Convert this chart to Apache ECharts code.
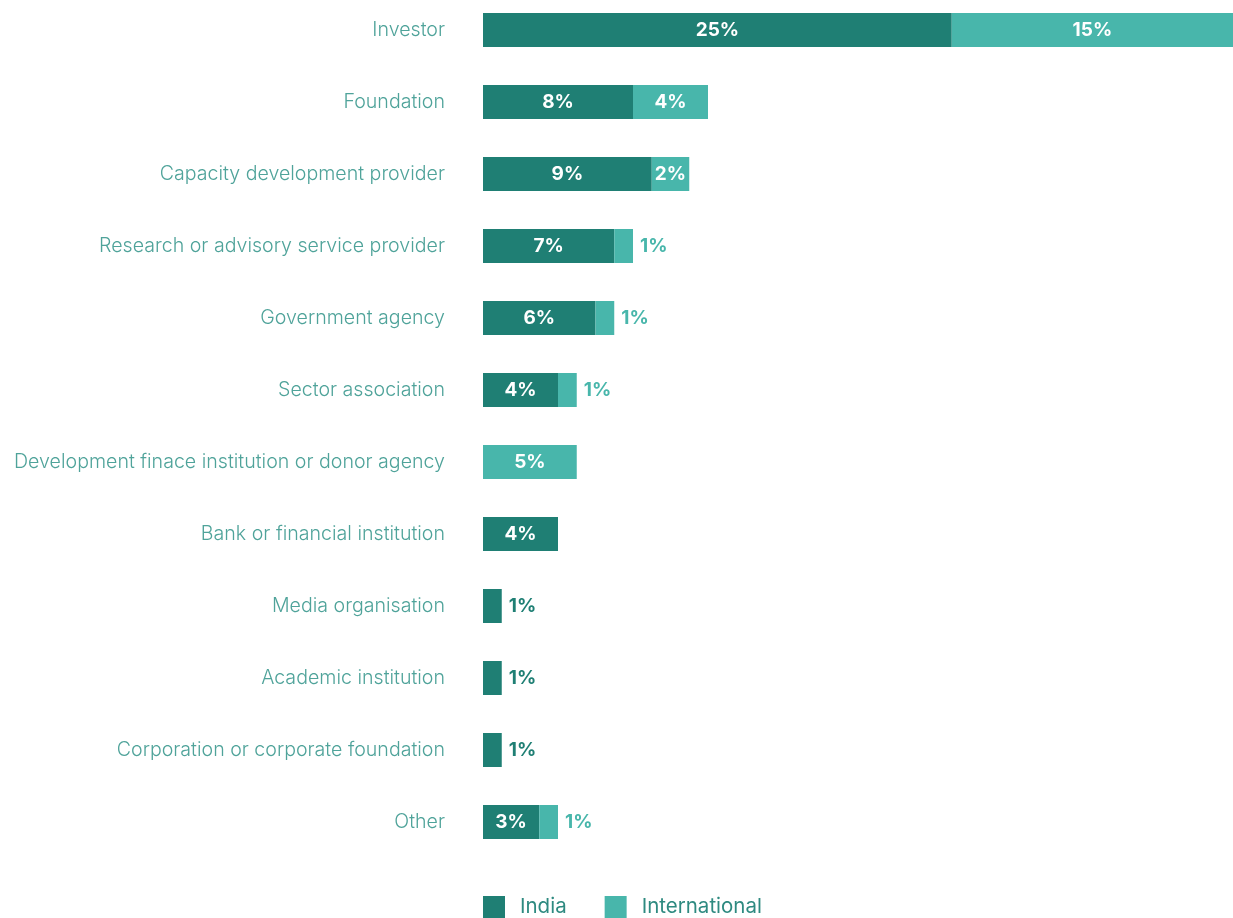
<!DOCTYPE html>
<html>
<head>
<meta charset="utf-8">
<script src="https://cdn.jsdelivr.net/npm/echarts@6/dist/echarts.min.js"></script>
<style>
  html, body { margin: 0; padding: 0; background: #ffffff; overflow: hidden; }
  #chart { position: absolute; left: 0; top: -6px; width: 1233px; height: 924px; }
</style>
</head>
<body>
<div id="chart"></div>
<script>
// Respondent organisation types, share of respondents (%)
const categories = [
  'Investor',
  'Foundation',
  'Capacity development provider',
  'Research or advisory service provider',
  'Government agency',
  'Sector association',
  'Development finace institution or donor agency',
  'Bank or financial institution',
  'Media organisation',
  'Academic institution',
  'Corporation or corporate foundation',
  'Other'
];
const india =         [25, 8, 9, 7, 6, 4, null, 4, 1, 1, 1, 3];
const international = [15, 4, 2, 1, 1, 1, 5, null, null, null, null, 1];

const DARK = '#1f7f74';
const LIGHT = '#48b6ab';
const FONT = 'Inter, Roboto, sans-serif';

// Small segments get their label outside, to the right, in the segment colour
function toItems(values, color) {
  return values.map(v => {
    if (v == null) return null;
    const small = v <= 1;
    return {
      value: v,
      label: small
        ? { position: 'right', distance: 7, color: color }
        : { position: 'inside', color: '#ffffff' }
    };
  });
}

const labelBase = {
  show: true,
  formatter: p => p.value + '%',
  fontFamily: FONT,
  fontWeight: 'bold',
  fontSize: 19
};

const chart = echarts.init(document.getElementById('chart'), null, { renderer: 'canvas' });
chart.setOption({
  animation: false,
  backgroundColor: '#ffffff',
  grid: { left: 483, top: 0, width: 760, height: 864, containLabel: false },
  xAxis: {
    type: 'value',
    min: 0,
    max: 40,
    show: false
  },
  yAxis: {
    type: 'category',
    data: categories,
    inverse: true,
    axisLine: { show: false },
    axisTick: { show: false },
    splitLine: { show: false },
    axisLabel: {
      margin: 38,
      color: '#4fa39a',
      fontFamily: FONT,
      fontWeight: 300,
      fontSize: 19.6
    }
  },
  legend: {
    left: 483,
    top: 902,
    padding: 0,
    itemWidth: 22,
    itemHeight: 22,
    itemGap: 38,
    icon: 'rect',
    textStyle: { color: '#2e8a80', fontFamily: FONT, fontSize: 20.5, padding: [0, 0, 0, 10] },
    data: ['India', 'International']
  },
  series: [
    {
      name: 'India',
      type: 'bar',
      stack: 'total',
      barWidth: 34,
      itemStyle: { color: DARK },
      label: labelBase,
      data: toItems(india, DARK)
    },
    {
      name: 'International',
      type: 'bar',
      stack: 'total',
      barWidth: 34,
      itemStyle: { color: LIGHT },
      label: labelBase,
      data: toItems(international, LIGHT)
    }
  ]
});
</script>
</body>
</html>
